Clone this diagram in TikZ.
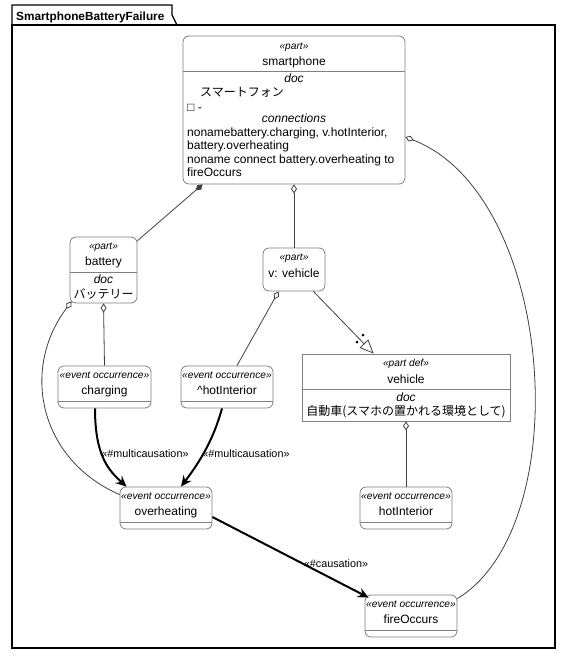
\documentclass[tikz,border=0pt]{standalone}
\usepackage{fontspec}
\setmainfont{Liberation Sans}
\newfontfamily\jp{Noto Sans CJK JP}
\usetikzlibrary{arrows,arrows.meta,positioning,calc,fit}
\definecolor{boxline}{RGB}{128,128,128}
\definecolor{edgeline}{RGB}{64,64,64}
\tikzstyle{frame} = [draw=black, line width=1.2pt]
\tikzstyle{title} = [font=\fontsize{11.8}{14}\selectfont\bfseries, inner sep=0pt]
\tikzstyle{usage} = [draw=boxline, fill=white, rounded corners=6pt, inner sep=0pt, line width=0.8pt]
\tikzstyle{defbox} = [draw=boxline, fill=white, inner sep=0pt, line width=0.8pt]
\tikzstyle{stereo} = [font=\fontsize{10.2}{12}\selectfont\itshape, inner sep=0pt, anchor=base]
\tikzstyle{label} = [font=\fontsize{12}{14}\selectfont, inner sep=0pt, anchor=base]
\tikzstyle{comp} = [font=\fontsize{12}{14}\selectfont\itshape, inner sep=0pt, anchor=base]
\tikzstyle{edgetext} = [font=\fontsize{10.8}{12}\selectfont, inner sep=0pt, anchor=base]
\tikzstyle{sep} = [draw=boxline, line width=0.8pt]
\tikzstyle{member} = [draw=edgeline, line width=0.8pt]
\tikzstyle{flow} = [-{Stealth[length=11pt,width=10pt,inset=4pt]}, line width=2pt]
\tikzstyle{owned} = [{Diamond[open,length=9pt,width=6pt]}-]
\tikzstyle{composite} = [{Diamond[length=9pt,width=6pt]}-]

\begin{document}
\begin{tikzpicture}[x=1pt, y=-1pt]
  \useasboundingbox (0,0) rectangle (567,656);

  % package frame
  \draw[frame] (12,25) rectangle (555,648);
  \draw[frame] (12,25) -- (12,5) -- (172,5) -- (172,15) -- (177,25);
  \node[title, anchor=base west] (title) at (16,20) {SmartphoneBatteryFailure};

  % smartphone
  \node[usage, fit={(183,36) (405,184)}] (smartphone) {};
  \node[stereo] (smartphone-st) at (294,49) {«part»};
  \node[label]  (smartphone-nm) at (294,65) {smartphone};
  \draw[sep] (smartphone.west |- 0,71) -- (smartphone.east |- 0,71);
  \node[comp] (smartphone-doc) at (294,82) {doc};
  \node[label, anchor=base west] (smartphone-jp) at (200,96) {\jp スマートフォン};
  \node[label, anchor=base west] (smartphone-sq) at (187,111) {□ -};
  \node[comp] (smartphone-con) at (294,122) {connections};
  \node[label, anchor=base west] (smartphone-l1) at (187,136) {nonamebattery.charging, v.hotInterior,};
  \node[label, anchor=base west] (smartphone-l2) at (187,149.5) {battery.overheating};
  \node[label, anchor=base west] (smartphone-l3) at (187,163) {noname connect battery.overheating to};
  \node[label, anchor=base west] (smartphone-l4) at (187,176.5) {fireOccurs};

  % battery
  \node[usage, fit={(70,237) (137,303)}] (battery) {};
  \node[stereo] (battery-st) at (103.5,249) {«part»};
  \node[label]  (battery-nm) at (103.5,265) {battery};
  \draw[sep] (battery.west |- 0,272) -- (battery.east |- 0,272);
  \node[comp] (battery-doc) at (103.5,283) {doc};
  \node[label] (battery-jp) at (103.5,298) {\jp バッテリー};

  % v: vehicle
  \node[usage, fit={(263,248) (325,291)}] (v) {};
  \node[stereo] (v-st) at (294,260) {«part»};
  \node[label]  (v-nm) at (294,277) {v: vehicle};

  % vehicle definition
  \node[defbox, fit={(302,354) (510,421)}] (vehicle) {};
  \node[stereo] (vehicle-st) at (406,366) {«part def»};
  \node[label]  (vehicle-nm) at (406,383) {vehicle};
  \draw[sep] (vehicle.west |- 0,389) -- (vehicle.east |- 0,389);
  \node[comp] (vehicle-doc) at (406,401) {doc};
  \node[label] (vehicle-jp) at (406,415) {\jp 自動車(スマホの置かれる環境として)};

  % event occurrences
  \node[usage, fit={(58,366) (151,408)}] (charging) {};
  \node[stereo] (charging-st) at (104.5,378) {«event occurrence»};
  \node[label]  (charging-nm) at (104.5,394) {charging};
  \draw[sep] (charging.west |- 0,401) -- (charging.east |- 0,401);

  \node[usage, fit={(181,366) (273,408)}] (hotInt) {};
  \node[stereo] (hotInt-st) at (227,378) {«event occurrence»};
  \node[label]  (hotInt-nm) at (227,394) {\^{}hotInterior};
  \draw[sep] (hotInt.west |- 0,401) -- (hotInt.east |- 0,401);

  \node[usage, fit={(120,487) (212,529)}] (overheating) {};
  \node[stereo] (overheating-st) at (166,499) {«event occurrence»};
  \node[label]  (overheating-nm) at (166,515) {overheating};
  \draw[sep] (overheating.west |- 0,522) -- (overheating.east |- 0,522);

  \node[usage, fit={(360,487) (452,529)}] (hotInterior) {};
  \node[stereo] (hotInterior-st) at (406,499) {«event occurrence»};
  \node[label]  (hotInterior-nm) at (406,515) {hotInterior};
  \draw[sep] (hotInterior.west |- 0,522) -- (hotInterior.east |- 0,522);

  \node[usage, fit={(365,595) (457,637)}] (fireOccurs) {};
  \node[stereo] (fireOccurs-st) at (411,607) {«event occurrence»};
  \node[label]  (fireOccurs-nm) at (411,623) {fireOccurs};
  \draw[sep] (fireOccurs.west |- 0,630) -- (fireOccurs.east |- 0,630);

  % membership
  \draw[member, composite] ([xshift=20pt]smartphone.south west) -- (battery);
  \draw[member, owned] (smartphone.south) -- (v.north);
  \draw[member, owned] ([yshift=-27pt]smartphone.east)
    .. controls (555,195) and (578,525) .. ([yshift=-4pt]fireOccurs.north east);
  \draw[member, owned] (battery.south) -- (charging.north);
  \draw[member, owned] ([xshift=2pt,yshift=2pt]battery.south west)
    .. controls (20,370) and (40,460) .. ([yshift=-8pt]overheating.north west);
  \draw[member, owned] ([xshift=16pt]v.south west) -- ([xshift=10pt]hotInt.north);
  \draw[member, owned] (vehicle.south) -- (hotInterior.north);

  % typing
  \draw[member, -{Triangle[open,length=14pt,width=12pt]}] ([xshift=-12pt]v.south east) -- ([xshift=72pt]vehicle.north west);
  \fill[black] (357,342) circle (1.5);
  \fill[black] (363,335) circle (1.5);

  % causations
  \draw[flow] ([xshift=-9.5pt]charging.south)
    .. controls (95,455) and (108,470) .. ([xshift=7pt]overheating.north west);
  \node[edgetext] (multi1) at (145,457) {«\#multicausation»};
  \draw[flow] ([xshift=-5pt]hotInt.south)
    .. controls (212,445) and (195,468) .. ([xshift=15pt]overheating.north);
  \node[edgetext] (multi2) at (246,457) {«\#multicausation»};
  \draw[flow] ([yshift=-9pt]overheating.east) -- ([xshift=4pt,yshift=-3pt]fireOccurs.north west);
  \node[edgetext] (cause) at (336,567) {«\#causation»};
\end{tikzpicture}
\end{document}
